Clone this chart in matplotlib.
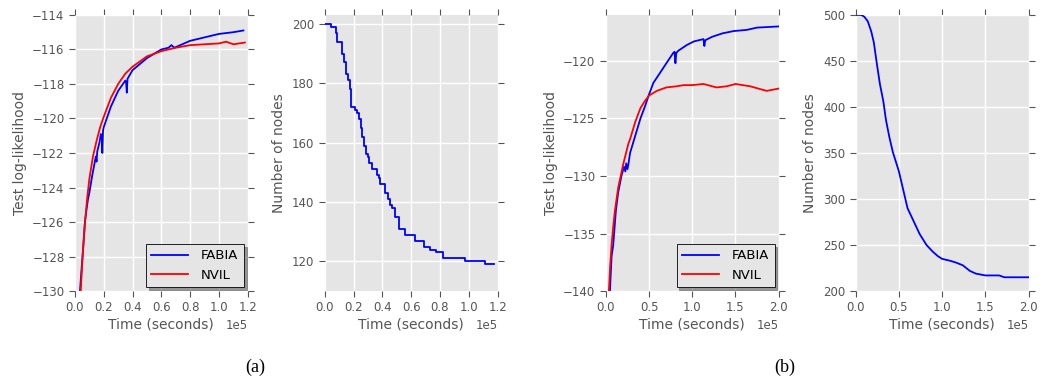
import matplotlib

matplotlib.use("Agg")
import matplotlib.pyplot as plt  # noqa: E402

# ---- (a) 200-node run ----
a_fabia_t = [0.035, 0.047, 0.058, 0.069, 0.08, 0.09, 0.1, 0.12, 0.145, 0.15, 0.155, 0.17, 0.18,
             0.186, 0.19, 0.195, 0.2, 0.25, 0.3, 0.35, 0.355, 0.36, 0.365, 0.4, 0.5, 0.6, 0.65,
             0.67, 0.69, 0.8, 0.9, 1.0, 1.1, 1.17]
a_fabia_ll = [-130.0, -128.6, -127.4, -126.0, -125.3, -124.7, -124.3, -123.3, -122.2, -122.5, -121.9,
              -121.4, -120.9, -121.0, -122.0, -120.7, -120.5, -119.3, -118.4, -117.8, -117.9, -118.5,
              -117.7, -117.2, -116.5, -116.0, -115.9, -115.75, -115.9, -115.5, -115.3, -115.1, -115.0,
              -114.9]

a_nvil_t = [0.04, 0.055, 0.07, 0.085, 0.1, 0.125, 0.15, 0.175, 0.2, 0.25, 0.3, 0.35, 0.4, 0.45,
            0.5, 0.6, 0.7, 0.8, 0.9, 1.0, 1.05, 1.1, 1.18]
a_nvil_ll = [-130.0, -127.7, -126.0, -124.6, -123.5, -122.2, -121.3, -120.5, -119.9, -118.8, -118.0,
             -117.4, -117.0, -116.7, -116.4, -116.1, -115.9, -115.75, -115.7, -115.65, -115.55,
             -115.7, -115.6]

a_nodes_t = [0.0, 0.046, 0.076, 0.085, 0.122, 0.13, 0.15, 0.162, 0.173, 0.185, 0.212, 0.226, 0.24,
             0.254, 0.261, 0.272, 0.284, 0.30, 0.31, 0.325, 0.36, 0.375, 0.38, 0.42, 0.44, 0.45,
             0.47, 0.485, 0.515, 0.556, 0.623, 0.69, 0.73, 0.77, 0.82, 0.975, 1.113, 1.178]
a_nodes = [200, 199, 197, 194, 190, 187, 183, 181, 178, 172, 171, 170, 168, 165, 162, 159, 156,
           155, 153, 151, 149, 148, 146, 143, 141, 139, 138, 135, 131, 129, 127, 125, 124, 123,
           121, 120, 119, 119]

# ---- (b) 500-node run ----
b_fabia_t = [0.047, 0.066, 0.085, 0.116, 0.143, 0.18, 0.21, 0.225, 0.235, 0.25, 0.26, 0.28, 0.34,
             0.4, 0.45, 0.5, 0.55, 0.63, 0.7, 0.78, 0.795, 0.805, 0.815, 0.84, 0.94, 1.02, 1.13,
             1.14, 1.15, 1.23, 1.35, 1.48, 1.63, 1.75, 2.0]
b_fabia_ll = [-140.0, -137.0, -136.0, -133.0, -131.4, -130.0, -129.2, -129.6, -128.9, -129.4, -129.0,
              -128.0, -126.5, -125.0, -124.0, -122.9, -121.9, -121.0, -120.2, -119.3, -119.2, -120.2,
              -119.3, -119.1, -118.6, -118.3, -118.1, -118.7, -118.2, -117.9, -117.6, -117.4, -117.3,
              -117.1, -117.0]

b_nvil_t = [0.035, 0.05, 0.066, 0.085, 0.105, 0.143, 0.2, 0.26, 0.28, 0.34, 0.4, 0.45, 0.5, 0.59,
            0.7, 0.82, 0.9, 1.0, 1.13, 1.28, 1.4, 1.5, 1.67, 1.86, 2.0]
b_nvil_ll = [-140.0, -137.8, -136.0, -134.4, -133.0, -131.0, -129.0, -127.2, -126.8, -125.3, -124.1,
             -123.5, -123.0, -122.6, -122.3, -122.2, -122.1, -122.1, -122.0, -122.3, -122.2, -122.0,
             -122.2, -122.6, -122.4]

b_nodes_t = [0.0, 0.065, 0.10, 0.14, 0.18, 0.21, 0.24, 0.28, 0.32, 0.35, 0.39, 0.43, 0.5, 0.55,
             0.6, 0.66, 0.74, 0.82, 0.89, 0.95, 1.0, 1.09, 1.16, 1.24, 1.32, 1.39, 1.5, 1.66, 1.72,
             2.0]
b_nodes = [500, 500, 498, 493, 482, 470, 450, 425, 406, 386, 367, 351, 330, 310, 290, 278, 262, 250,
           243, 238, 235, 233, 231, 228, 222, 219, 217, 217, 215, 215]

SCALE = 1e5
GRAY = "#555555"


def style_axes(ax):
    ax.set_facecolor("#E5E5E5")
    for s in ax.spines.values():
        s.set_visible(False)
    ax.grid(True, color="white", linewidth=1.0)
    ax.set_axisbelow(True)
    ax.ticklabel_format(axis="x", style="sci", scilimits=(0, 0), useMathText=False)
    ax.tick_params(direction="out", top=True, right=True, colors=GRAY, labelsize=8.5,
                   length=4, labelcolor=GRAY)
    ax.xaxis.get_offset_text().set_color(GRAY)
    ax.xaxis.get_offset_text().set_fontsize(8.5)
    ax.set_xlabel("Time (seconds)", color=GRAY, fontsize=10, labelpad=2)


def ll_panel(ax, ft, fy, nt, ny, xmax, xticks, ylim, yticks):
    ax.plot([t * SCALE for t in ft], fy, color="blue", linewidth=1.3, label="FABIA")
    ax.plot([t * SCALE for t in nt], ny, color="red", linewidth=1.3, label="NVIL")
    ax.set_xlim(0, xmax * SCALE)
    ax.set_xticks([t * SCALE for t in xticks])
    ax.set_ylim(*ylim)
    ax.set_yticks(yticks)
    ax.set_ylabel("Test log-likelihood", color=GRAY, fontsize=10)
    leg = ax.legend(loc="lower right", fontsize=9.5, shadow=True, fancybox=False,
                    framealpha=1.0, facecolor="#E5E5E5", edgecolor="black",
                    borderaxespad=0.3, handlelength=2.8, handletextpad=1.0)
    leg.get_frame().set_linewidth(0.6)
    style_axes(ax)


def node_panel(ax, t, n, xmax, xticks, ylim, yticks, steps):
    ax.plot([v * SCALE for v in t], n, color="blue", linewidth=1.3,
            drawstyle="steps-post" if steps else "default")
    ax.set_xlim(0, xmax * SCALE)
    ax.set_xticks([v * SCALE for v in xticks])
    ax.set_ylim(*ylim)
    ax.set_yticks(yticks)
    ax.set_ylabel("Number of nodes", color=GRAY, fontsize=10)
    style_axes(ax)


fig = plt.figure(figsize=(10.41, 3.83), dpi=100)
fig.patch.set_facecolor("white")
w, h, b = 0.166, 0.721, 0.240
ax1 = fig.add_axes([0.072, b, w, h])
ax2 = fig.add_axes([0.312, b, w, h])
ax3 = fig.add_axes([0.582, b, w, h])
ax4 = fig.add_axes([0.822, b, w, h])

ticks12 = [0.0, 0.2, 0.4, 0.6, 0.8, 1.0, 1.2]
ticks20 = [0.0, 0.5, 1.0, 1.5, 2.0]

ll_panel(ax1, a_fabia_t, a_fabia_ll, a_nvil_t, a_nvil_ll, 1.2, ticks12, (-130, -114),
         list(range(-130, -113, 2)))
node_panel(ax2, a_nodes_t, a_nodes, 1.2, ticks12, (110, 203), list(range(120, 201, 20)), True)
ll_panel(ax3, b_fabia_t, b_fabia_ll, b_nvil_t, b_nvil_ll, 2.0, ticks20, (-140, -116),
         list(range(-140, -119, 5)))
node_panel(ax4, b_nodes_t, b_nodes, 2.0, ticks20, (200, 500), list(range(200, 501, 50)), False)

fig.text(0.245, 0.04, "(a)", ha="center", va="center", fontsize=13, family="Liberation Serif")
fig.text(0.754, 0.04, "(b)", ha="center", va="center", fontsize=13, family="Liberation Serif")

fig.savefig("out.png", dpi=100)
